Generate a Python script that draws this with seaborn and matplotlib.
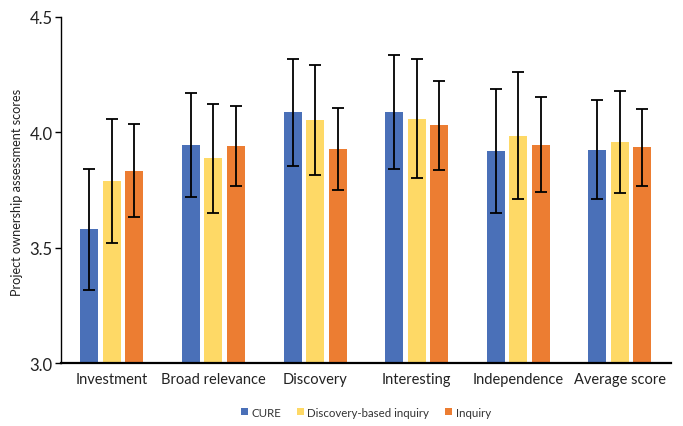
import matplotlib
matplotlib.use("Agg")
import matplotlib.pyplot as plt
import seaborn as sns
import pandas as pd
import numpy as np

categories = ["Investment", "Broad relevance", "Discovery", "Interesting", "Independence", "Average score"]
series = ["CURE", "Discovery-based inquiry", "Inquiry"]
cure = [3.58, 3.946, 4.085, 4.086, 3.919, 3.924]
dbi = [3.789, 3.886, 4.053, 4.058, 3.985, 3.957]
inquiry = [3.833, 3.940, 3.928, 4.029, 3.945, 3.934]
cure_err = [0.262, 0.225, 0.231, 0.246, 0.268, 0.215]
dbi_err = [0.267, 0.234, 0.239, 0.257, 0.276, 0.220]
inquiry_err = [0.200, 0.174, 0.178, 0.193, 0.206, 0.167]
colors = ["#4A70B8", "#FED966", "#EC7D32"]

df = pd.DataFrame({
    "category": categories * 3,
    "group": [s for s in series for _ in categories],
    "value": cure + dbi + inquiry,
    "err": cure_err + dbi_err + inquiry_err,
})

sns.set_style("white")
plt.rcParams["font.family"] = ["Lato", "DejaVu Sans"]

fig = plt.figure(figsize=(6.83, 4.27), dpi=100)
ax = fig.add_axes([0.0893, 0.1468, 0.8927, 0.8122])

sns.barplot(data=df, x="category", y="value", hue="group", order=categories,
            hue_order=series, palette=colors, saturation=1, width=0.664, gap=0.2,
            errorbar=None, ax=ax, edgecolor="none", legend=True)

# error bars at bar centres
for cont, s in zip(ax.containers, series):
    sub = df[df.group == s].set_index("category").loc[categories]
    xs = [p.get_x() + p.get_width() / 2 for p in cont.patches]
    ax.errorbar(xs, sub["value"].values, yerr=sub["err"].values, fmt="none",
                ecolor="black", elinewidth=1.3, capsize=4, capthick=1.3, zorder=5)

ax.set_ylim(3.0, 4.5)
ax.set_xlim(-0.5, 5.5)
ax.set_yticks([3.0, 3.5, 4.0, 4.5])
ax.set_yticklabels(["3.0", "3.5", "4.0", "4.5"], fontsize=12, color="#222222")
ax.tick_params(axis="y", direction="out", length=4, width=1, color="black", pad=2, left=True)
ax.tick_params(axis="x", length=0, pad=6, labelsize=10.5, labelcolor="#222222")
ax.set_xlabel("")
ax.set_ylabel("Project ownership assessment scores", fontsize=9.2, color="#222222")
ax.yaxis.set_label_coords(-0.063, 0.495)

for sp in ["top", "right"]:
    ax.spines[sp].set_visible(False)
ax.spines["left"].set_color("black")
ax.spines["left"].set_linewidth(1.0)
ax.spines["bottom"].set_color("black")
ax.spines["bottom"].set_linewidth(1.6)

handles, labels = ax.get_legend_handles_labels()
ax.legend(handles, labels, loc="upper center", bbox_to_anchor=(0.5, -0.095),
          ncol=3, frameon=False, fontsize=8.3, handlelength=0.6, handleheight=0.6,
          handletextpad=0.3, columnspacing=1.4, labelcolor="#333333")

fig.savefig("out.png", dpi=100)
